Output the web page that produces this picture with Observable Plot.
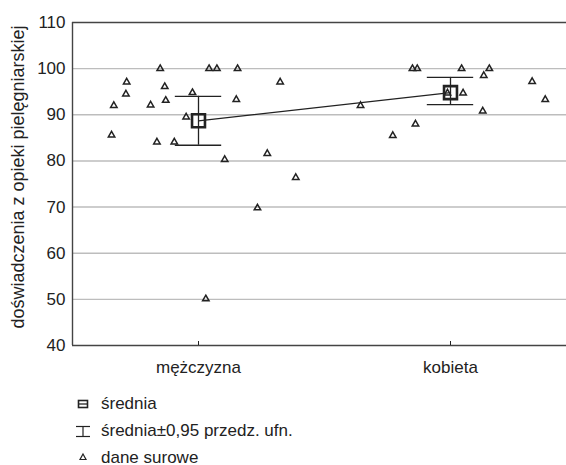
<!DOCTYPE html>
<html>
<head>
<meta charset="utf-8">
<script src="https://cdn.jsdelivr.net/npm/d3@7"></script>
<script src="https://cdn.jsdelivr.net/npm/@observablehq/plot@0.6"></script>
<style>
  html, body { margin: 0; padding: 0; background: #fff; overflow: hidden; }
  body { font-family: "Liberation Sans", Arial, sans-serif; color: #222; }
  #legend { position: relative; margin-left: 74px; padding-top: 5px; font-size: 17px; }
  .row { display: flex; align-items: center; height: 27px; }
  .row svg { margin-right: 9px; }
</style>
</head>
<body>
<div id="chart"></div>
<div id="legend"></div>
<script>
// ---- data ----
const categories = ["mężczyzna", "kobieta"];
const yTicks = [40, 50, 60, 70, 80, 90, 100, 110];
const yTitle = "doświadczenia z opieki pielęgniarskiej";

// raw values (dane surowe), with horizontal jitter (fraction of category spacing)
const maleValues = [100, 100, 100, 100, 97.1, 97.1, 94.5, 96.1, 94.8, 92.0, 92.1, 93.1, 93.3, 89.5, 85.6, 84.1, 84.1, 80.3, 81.6, 76.4, 69.8, 50.1];
const maleJitter = [-0.152, 0.042, 0.073, 0.155, -0.285, 0.324, -0.288, -0.134, -0.024, -0.336, -0.190, -0.130, 0.150, -0.049, -0.345, -0.165, -0.096, 0.104, 0.273, 0.386, 0.234, 0.029];
const femaleValues = [100, 100, 100, 100, 98.5, 97.2, 94.7, 93.3, 92.0, 90.8, 88.0, 85.5, 94.7];
const femaleJitter = [-0.151, -0.132, 0.044, 0.154, 0.132, 0.324, 0.050, 0.376, -0.357, 0.128, -0.139, -0.229, -0.012];

// means and 95% CI
const means = [88.7, 94.8];
const ciLow = [83.4, 92.2];
const ciHigh = [94.0, 98.1];

// ---- build tables ----
const raw = [
  ...maleValues.map((v, i) => ({ c: 1 + maleJitter[i], v })),
  ...femaleValues.map((v, i) => ({ c: 2 + femaleJitter[i], v }))
];
const stats = categories.map((name, i) => ({ c: i + 1, name, m: means[i], lo: ciLow[i], hi: ciHigh[i] }));
const capHalf = 0.092;

const ink = "#222";
const chart = Plot.plot({
  width: 566,
  height: 385,
  marginLeft: 72,
  marginRight: 0,
  marginTop: 22,
  marginBottom: 40,
  style: { fontFamily: "'Liberation Sans', Arial, sans-serif", fontSize: "17px", color: ink, background: "#fff" },
  x: { type: "linear", domain: [0.5, 2.5], range: [72, 576] },
  y: { domain: [40, 110], range: [345, 22] },
  marks: [
    Plot.ruleY(yTicks.filter(t => t > 40 && t < 110), { stroke: "#bdbdbd", strokeWidth: 1.4 }),
    Plot.ruleY([110], { stroke: "#444", strokeWidth: 1.4 }),
    Plot.ruleY([40], { stroke: "#444", strokeWidth: 1.4 }),
    Plot.ruleX([0.5], { stroke: "#444", strokeWidth: 1.4 }),
    Plot.axisY({ ticks: yTicks, tickSize: 0, tickPadding: 7, label: null, fill: ink, fontSize: 17 }),
    Plot.text([yTitle], { frameAnchor: "left", textAnchor: "middle", rotate: -90, dx: -54, dy: -7, fill: ink, fontSize: 18 }),
    Plot.axisX({ ticks: [1, 2], tickFormat: d => categories[d - 1], tickSize: -4, tickPadding: 19, label: null, stroke: ink, fill: ink, fontSize: 17 }),
    Plot.dot(raw, { x: "c", y: "v", symbol: "triangle", r: 2.4, stroke: ink, strokeWidth: 1.5, fill: "none" }),
    Plot.line(stats, { x: "c", y: "m", stroke: ink, strokeWidth: 1.2 }),
    Plot.ruleX(stats, { x: "c", y1: "lo", y2: "hi", stroke: ink, strokeWidth: 1.3 }),
    Plot.ruleY(stats, { y: "lo", x1: d => d.c - capHalf, x2: d => d.c + capHalf, stroke: ink, strokeWidth: 1.3 }),
    Plot.ruleY(stats, { y: "hi", x1: d => d.c - capHalf, x2: d => d.c + capHalf, stroke: ink, strokeWidth: 1.3 }),
    Plot.dot(stats, { x: "c", y: "m", symbol: "square", r: 7.3, stroke: ink, strokeWidth: 2.6, fill: "none" })
  ]
});
document.getElementById("chart").appendChild(chart);

// ---- legend ----
const legendItems = [
  { label: "średnia", icon: '<rect x="4.5" y="4.5" width="9" height="7" fill="none" stroke="#222" stroke-width="1.6"/><line x1="4.5" x2="13.5" y1="8" y2="8" stroke="#222" stroke-width="1.3"/>' },
  { label: "średnia±0,95 przedz. ufn.", icon: '<line x1="2" x2="16" y1="3.5" y2="3.5" stroke="#222" stroke-width="1.2"/><line x1="2" x2="16" y1="13.5" y2="13.5" stroke="#222" stroke-width="1.2"/><line x1="9" x2="9" y1="3.5" y2="13.5" stroke="#222" stroke-width="1.2"/>' },
  { label: "dane surowe", icon: '<path d="M9,4 L12,9.5 L6,9.5 Z" fill="none" stroke="#222" stroke-width="1.2"/>' }
];
const legend = document.getElementById("legend");
legendItems.forEach(it => {
  const row = document.createElement("div");
  row.className = "row";
  row.innerHTML = `<svg width="18" height="16" viewBox="0 0 18 16">${it.icon}</svg><span>${it.label}</span>`;
  legend.appendChild(row);
});
</script>
</body>
</html>
